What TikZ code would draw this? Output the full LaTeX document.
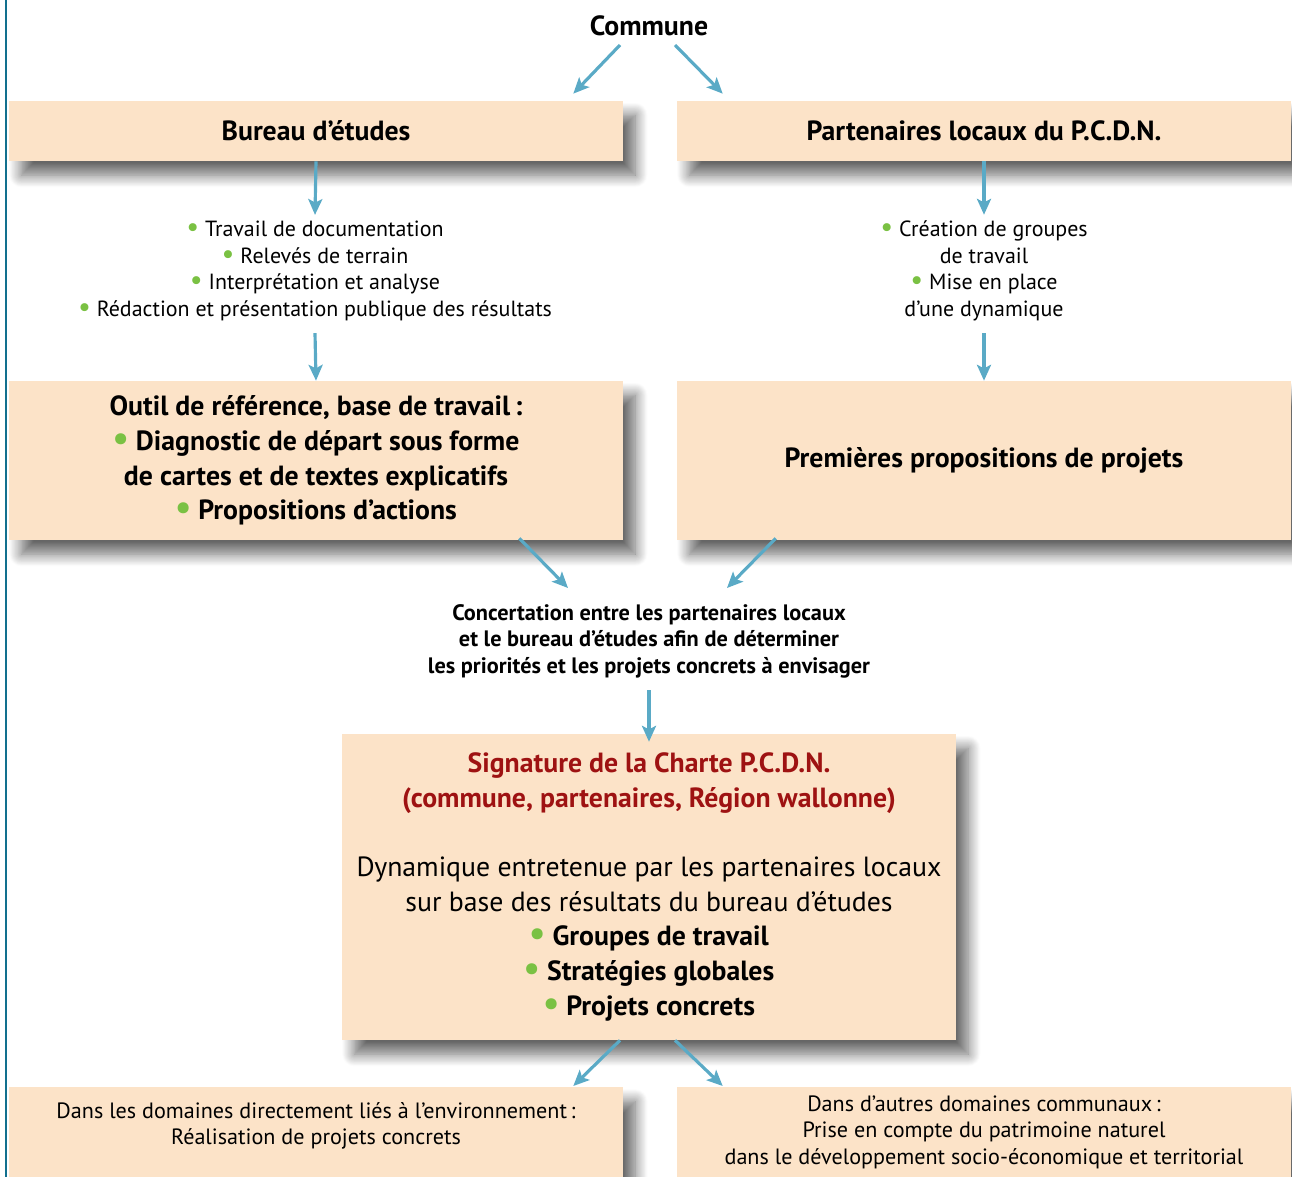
\documentclass[tikz,border=0pt]{standalone}
\usepackage{fontspec}
\setmainfont{PT Sans}
\usepackage{tikz}
\usetikzlibrary{calc,arrows.meta,positioning,shadows.blur}
\definecolor{mypeach}{RGB}{252,227,200}
\definecolor{myarrowblue}{RGB}{90,170,198}
\definecolor{mybulletgreen}{RGB}{122,193,67}
\definecolor{mydarkred}{RGB}{158,18,18}
\definecolor{myteal}{RGB}{18,112,142}
\tikzstyle{box}=[fill=mypeach,inner sep=0pt,align=center,minimum width=12.28cm,
  blur shadow={shadow xshift=7pt,shadow yshift=-8pt,shadow blur radius=7pt,shadow blur steps=14,shadow opacity=60}]
\tikzstyle{flow}=[myarrowblue,line width=1.8pt,-{Stealth[length=9pt,width=8pt,inset=2pt]}]
\tikzstyle{bigtext}=[font=\fontsize{15.8}{19.7}\selectfont\bfseries]
\tikzstyle{smalltext}=[font=\fontsize{12.5}{15.1}\selectfont,align=center,inner sep=0pt]
\newcommand{\gdot}{{\color{mybulletgreen}\scalebox{1.3}{\textbullet}}\ }

\begin{document}
\begin{tikzpicture}[x=0.02cm,y=-0.02cm]
\useasboundingbox (0,0) rectangle (1292,1177);
\draw[myteal,line width=1.4pt] (6,0) -- (6,1177);

\node [bigtext] (commune) at (649,26) {Commune};
\node [box,bigtext,minimum height=1.2cm] (bureau) at (316,131) {Bureau d’études};
\node [box,bigtext,minimum height=1.2cm] (partners) at (984,131) {Partenaires locaux du P.C.D.N.};

\node [smalltext] (travail) at (315,271) {\gdot Travail de documentation\\
  \gdot Relevés de terrain\\
  \gdot Interprétation et analyse\\
  \gdot Rédaction et présentation publique des résultats};
\node [smalltext] (groupes) at (984,271) {\gdot Création de groupes\\
  de travail\\
  \gdot Mise en place\\
  d’une dynamique};

\node [box,bigtext,minimum height=3.18cm] (outil) at (316,460.5) {Outil de référence, base de travail\,:\\
  \gdot Diagnostic de départ sous forme\\
  de cartes et de textes explicatifs\\
  \gdot Propositions d’actions};
\node [box,bigtext,minimum height=3.18cm] (premieres) at (984,460.5) {Premières propositions de projets};

\node [smalltext,font=\fontsize{12.7}{15.1}\selectfont\bfseries] (concert) at (649,641) {Concertation entre les partenaires locaux\\
  et le bureau d’études afin de déterminer\\
  les priorités et les projets concrets à envisager};

\node [box,font=\fontsize{15.8}{19.7}\selectfont,minimum height=6.12cm] (charte) at (649,887) {%
  {\bfseries\color{mydarkred}Signature de la Charte P.C.D.N.}\\
  {\bfseries\color{mydarkred}(commune, partenaires, Région wallonne)}\\[19.7pt]
  Dynamique entretenue par les partenaires locaux\\
  sur base des résultats du bureau d’études\\
  \bfseries\gdot Groupes de travail\\
  \bfseries\gdot Stratégies globales\\
  \bfseries\gdot Projets concrets};

\node [box,font=\fontsize{12.6}{15.1}\selectfont,minimum height=1.8cm,anchor=north] (envir) at (316,1087) {Dans les domaines directement liés à l’environnement\,:\\
  Réalisation de projets concrets\\[-5pt]};
\node [box,font=\fontsize{12.6}{15.1}\selectfont,minimum height=1.8cm,anchor=north] (autres) at (984,1087) {Dans d’autres domaines communaux\,:\\
  Prise en compte du patrimoine naturel\\
  dans le développement socio-économique et territorial};

% arrows
\draw[flow] ($(commune)+(-29,19)$) -- ($(bureau.north east)+(-50,-7)$);
\draw[flow] ($(commune)+(26,19)$) -- ($(partners.north west)+(46,-7)$);
\draw[flow] (bureau.south) -- ($(travail.north)+(0,-6)$);
\draw[flow] (partners.south) -- ($(groupes.north)+(0,-6)$);
\draw[flow] ($(travail.south)+(0,12)$) -- (outil.north);
\draw[flow] ($(groupes.south)+(0,12)$) -- (premieres.north);
\draw[flow] ($(outil.south east)+(-104,-2)$) -- ($(concert)+(-81,-53)$);
\draw[flow] ($(premieres.south west)+(99,-2)$) -- ($(concert)+(78,-53)$);
\draw[flow] ($(concert.south)+(0,12)$) -- ($(charte.north)+(0,8)$);
\draw[flow] ($(charte.south)+(-29,0)$) -- ($(envir.north east)+(-50,-1)$);
\draw[flow] ($(charte.south)+(26,0)$) -- ($(autres.north west)+(46,-1)$);
\end{tikzpicture}
\end{document}
